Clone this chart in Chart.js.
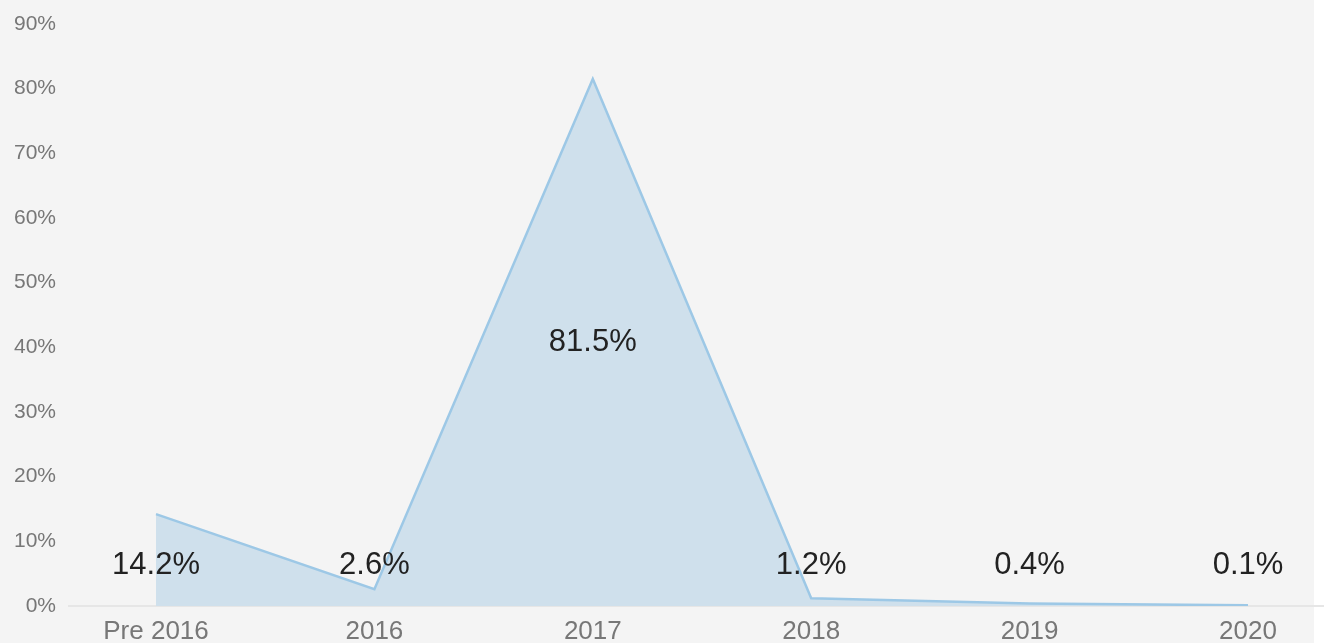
<!DOCTYPE html>
<html>
<head>
<meta charset="utf-8">
<script src="https://cdn.jsdelivr.net/npm/chart.js@4/dist/chart.umd.min.js"></script>
<style>
  html, body { margin: 0; padding: 0; background: #ffffff; }
  #wrap { width: 1324px; height: 643px; position: relative; }
</style>
</head>
<body>
<div id="wrap"><canvas id="myChart" width="1324" height="643"></canvas></div>
<script>
const categories = ['Pre 2016', '2016', '2017', '2018', '2019', '2020'];
const shareValues = [14.2, 2.6, 81.5, 1.2, 0.4, 0.1];
const yTicks = [0, 10, 20, 30, 40, 50, 60, 70, 80, 90];

// gray panel behind the chart plus the long baseline
const backdrop = {
    id: 'backdrop',
    beforeDraw(chart) {
        const ctx = chart.ctx;
        ctx.save();
        ctx.fillStyle = '#f4f4f4';
        ctx.fillRect(0, 0, 1314, chart.height);
        const y0 = chart.scales.y.getPixelForValue(0);
        ctx.strokeStyle = '#e6e6e6';
        ctx.lineWidth = 2;
        ctx.beginPath();
        ctx.moveTo(68, y0);
        ctx.lineTo(chart.width, y0);
        ctx.stroke();
        ctx.restore();
    }
};

// value labels: middle of the area for big values, a low fixed band otherwise
const valueLabels = {
    id: 'valueLabels',
    afterDatasetsDraw(chart) {
        const ctx = chart.ctx;
        const meta = chart.getDatasetMeta(0);
        const yScale = chart.scales.y;
        ctx.save();
        ctx.font = '31px "Liberation Sans", Arial, sans-serif';
        ctx.fillStyle = '#222222';
        ctx.textAlign = 'center';
        ctx.textBaseline = 'middle';
        meta.data.forEach((pt, i) => {
            const v = shareValues[i];
            const y = yScale.getPixelForValue(v > 30 ? v / 2 : 6.3);
            ctx.fillText(v.toFixed(1) + '%', pt.x, y);
        });
        ctx.restore();
    }
};

const ctx = document.getElementById('myChart').getContext('2d');
new Chart(ctx, {
    type: 'line',
    data: {
        labels: categories,
        datasets: [{
            data: shareValues,
            borderColor: '#9dc8e6',
            backgroundColor: '#cfe0ec',
            borderWidth: 2.5,
            fill: 'origin',
            tension: 0,
            pointRadius: 0
        }]
    },
    options: {
        responsive: false,
        animation: false,
        layout: { padding: { top: 24, right: 76, left: 0, bottom: 0 } },
        plugins: {
            legend: { display: false },
            tooltip: { enabled: false }
        },
        scales: {
            x: {
                offset: false,
                grid: { display: false },
                border: { display: false },
                ticks: {
                    color: '#777777',
                    font: { family: '"Liberation Sans", Arial, sans-serif', size: 26 },
                    padding: 2,
                    maxRotation: 0,
                    autoSkip: false
                },
                afterFit(scale) { scale.height = 37; }
            },
            y: {
                min: 0,
                max: 90,
                grid: { display: false },
                border: { display: false },
                afterBuildTicks(scale) { scale.ticks = yTicks.map(v => ({ value: v })); },
                ticks: {
                    color: '#777777',
                    font: { family: '"Liberation Sans", Arial, sans-serif', size: 21 },
                    padding: 92,
                    callback: v => v + '%'
                },
                afterFit(scale) {
                    scale.width = 156;
                    scale.paddingTop = 12;
                    scale.paddingBottom = 12;
                }
            }
        }
    },
    plugins: [backdrop, valueLabels]
});
</script>
</body>
</html>
